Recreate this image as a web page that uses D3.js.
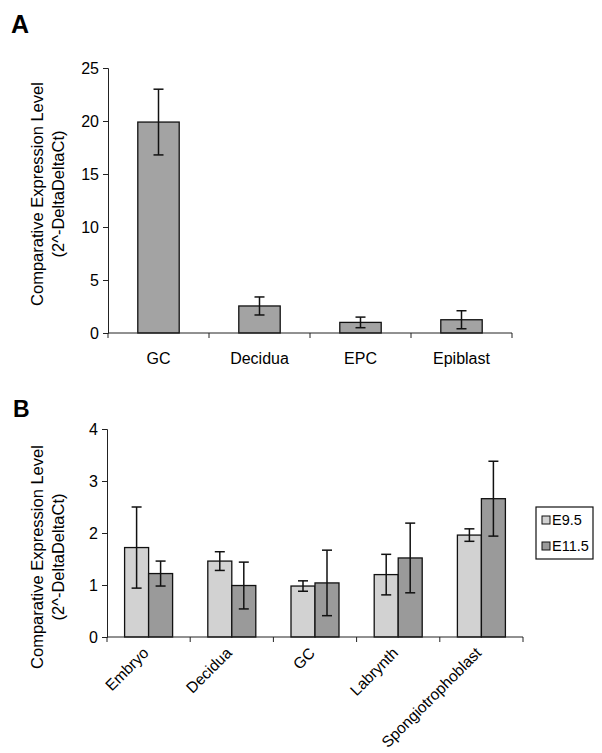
<!DOCTYPE html>
<html>
<head>
<script src="https://d3js.org/d3.v7.min.js"></script>
<style>
body{ margin:0; background:#fff; }
text{ font-family: "Liberation Sans", Arial, sans-serif; fill:#000; }
</style>
</head>
<body>
<script>
// panel A data
var catsA = ["GC", "Decidua", "EPC", "Epiblast"]
var valsA = [19.9, 2.55, 1.0, 1.25]
var errA = [3.1, 0.85, 0.5, 0.85]
var ticksA = [0, 5, 10, 15, 20, 25]

// panel B data
var catsB = ["Embryo", "Decidua", "GC", "Labrynth", "Spongiotrophoblast"]
var series = ["E9.5", "E11.5"]
var valsE95 = [1.72, 1.46, 0.98, 1.2, 1.96]
var errE95 = [0.78, 0.18, 0.1, 0.39, 0.12]
var valsE115 = [1.22, 0.99, 1.04, 1.52, 2.66]
var errE115 = [0.24, 0.45, 0.63, 0.67, 0.72]
var ticksB = [0, 1, 2, 3, 4]

var colorA = "#a3a3a3"
var colorsB = ["#d2d2d2", "#9a9a9a"]

var svg = d3.select("body").append("svg")
            .attr("width", 602)
            .attr("height", 753)

function yTitle(cy){
    var g = svg.append("g").attr("transform", "translate(0," + cy + ")")
    g.append("text").attr("transform", "translate(43,0) rotate(-90)")
     .attr("text-anchor", "middle").attr("font-size", 16.5)
     .text("Comparative Expression Level")
    g.append("text").attr("transform", "translate(64,0) rotate(-90)")
     .attr("text-anchor", "middle").attr("font-size", 16.5)
     .text("(2^-DeltaDeltaCt)")
}

function yAxis(y, ticks, x0){
    var ax = d3.axisLeft(y).tickValues(ticks).tickSize(5).tickPadding(4).tickFormat(d3.format("d"))
    var g = svg.append("g").attr("transform", "translate(" + x0 + ",0)").call(ax)
    g.select(".domain").attr("stroke", "#222")
    g.selectAll(".tick line").attr("stroke", "#222")
    g.selectAll("text").attr("font-size", 16).attr("font-family", "Liberation Sans, Arial, sans-serif").attr("fill", "#000")
}

function xAxisLine(x, y0){
    var r = x.range()
    svg.append("line").attr("x1", r[0]).attr("x2", r[1])
       .attr("y1", y0).attr("y2", y0).attr("stroke", "#222")
    var bounds = x.domain().map(function(d){ return x(d) }).concat([r[1]])
    svg.selectAll(null).data(bounds).enter().append("line")
       .attr("x1", function(d){ return d }).attr("x2", function(d){ return d })
       .attr("y1", y0).attr("y2", y0 + 5).attr("stroke", "#222")
}

function errBar(cx, yv, e, y){
    var g = svg.append("g").attr("stroke", "#111").attr("stroke-width", 1.5)
    g.append("line").attr("x1", cx).attr("x2", cx).attr("y1", y(yv + e)).attr("y2", y(yv - e))
    g.append("line").attr("x1", cx - 5).attr("x2", cx + 5).attr("y1", y(yv + e)).attr("y2", y(yv + e))
    g.append("line").attr("x1", cx - 5).attr("x2", cx + 5).attr("y1", y(yv - e)).attr("y2", y(yv - e))
}

// ---------- panel A ----------
svg.append("text").attr("x", 11).attr("y", 33).attr("font-size", 25)
   .attr("font-weight", "bold").text("A")

var xA = d3.scaleBand().domain(catsA).range([108, 512])
var yA = d3.scaleLinear().domain([0, 25]).range([333, 68])

yTitle(194)
yAxis(yA, ticksA, 108)

svg.selectAll(null).data(catsA).enter().append("rect")
   .attr("x", function(d){ return xA(d) + xA.bandwidth() * 0.295 })
   .attr("width", xA.bandwidth() * 0.41)
   .attr("y", function(d, i){ return yA(valsA[i]) })
   .attr("height", function(d, i){ return yA(0) - yA(valsA[i]) })
   .attr("fill", colorA).attr("stroke", "#111").attr("stroke-width", 1.3)

catsA.forEach(function(d, i){
    errBar(xA(d) + xA.bandwidth() / 2, valsA[i], errA[i], yA)
})

xAxisLine(xA, 333)

svg.selectAll(null).data(catsA).enter().append("text")
   .attr("x", function(d){ return xA(d) + xA.bandwidth() / 2 })
   .attr("y", 364).attr("text-anchor", "middle").attr("font-size", 16)
   .text(function(d){ return d })

// ---------- panel B ----------
svg.append("text").attr("x", 13).attr("y", 417).attr("font-size", 23)
   .attr("font-weight", "bold").text("B")

var xB = d3.scaleBand().domain(catsB).range([107, 523])
var x1 = d3.scaleBand().domain(series).range([0, 48])
var yB = d3.scaleLinear().domain([0, 4]).range([637, 429])

yTitle(557)
yAxis(yB, ticksB, 107)

var valsB = [valsE95, valsE115]
var errsB = [errE95, errE115]
var off = (xB.bandwidth() - 48) / 2

series.forEach(function(s, k){
    svg.selectAll(null).data(catsB).enter().append("rect")
       .attr("x", function(d){ return xB(d) + off + x1(s) })
       .attr("width", x1.bandwidth())
       .attr("y", function(d, i){ return yB(valsB[k][i]) })
       .attr("height", function(d, i){ return yB(0) - yB(valsB[k][i]) })
       .attr("fill", colorsB[k]).attr("stroke", "#111").attr("stroke-width", 1.3)
})
series.forEach(function(s, k){
    catsB.forEach(function(d, i){
        errBar(xB(d) + off + x1(s) + x1.bandwidth() / 2, valsB[k][i], errsB[k][i], yB)
    })
})

xAxisLine(xB, 637)

svg.selectAll(null).data(catsB).enter().append("text")
   .attr("transform", function(d){
       return "translate(" + (xB(d) + xB.bandwidth() / 2 + 1) + ",654) rotate(-45)"
   })
   .attr("text-anchor", "end").attr("font-size", 15.5)
   .text(function(d){ return d })

// legend
var lg = svg.append("g").attr("transform", "translate(536,507)")
lg.append("rect").attr("width", 57).attr("height", 52)
  .attr("fill", "#fff").attr("stroke", "#111").attr("stroke-width", 1.2)
series.forEach(function(s, k){
    lg.append("rect").attr("x", 6).attr("y", 9 + k * 26).attr("width", 8).attr("height", 8)
      .attr("fill", colorsB[k]).attr("stroke", "#111")
    lg.append("text").attr("x", 16).attr("y", 18 + k * 26).attr("font-size", 14.5).text(s)
})
</script>
</body>
</html>
